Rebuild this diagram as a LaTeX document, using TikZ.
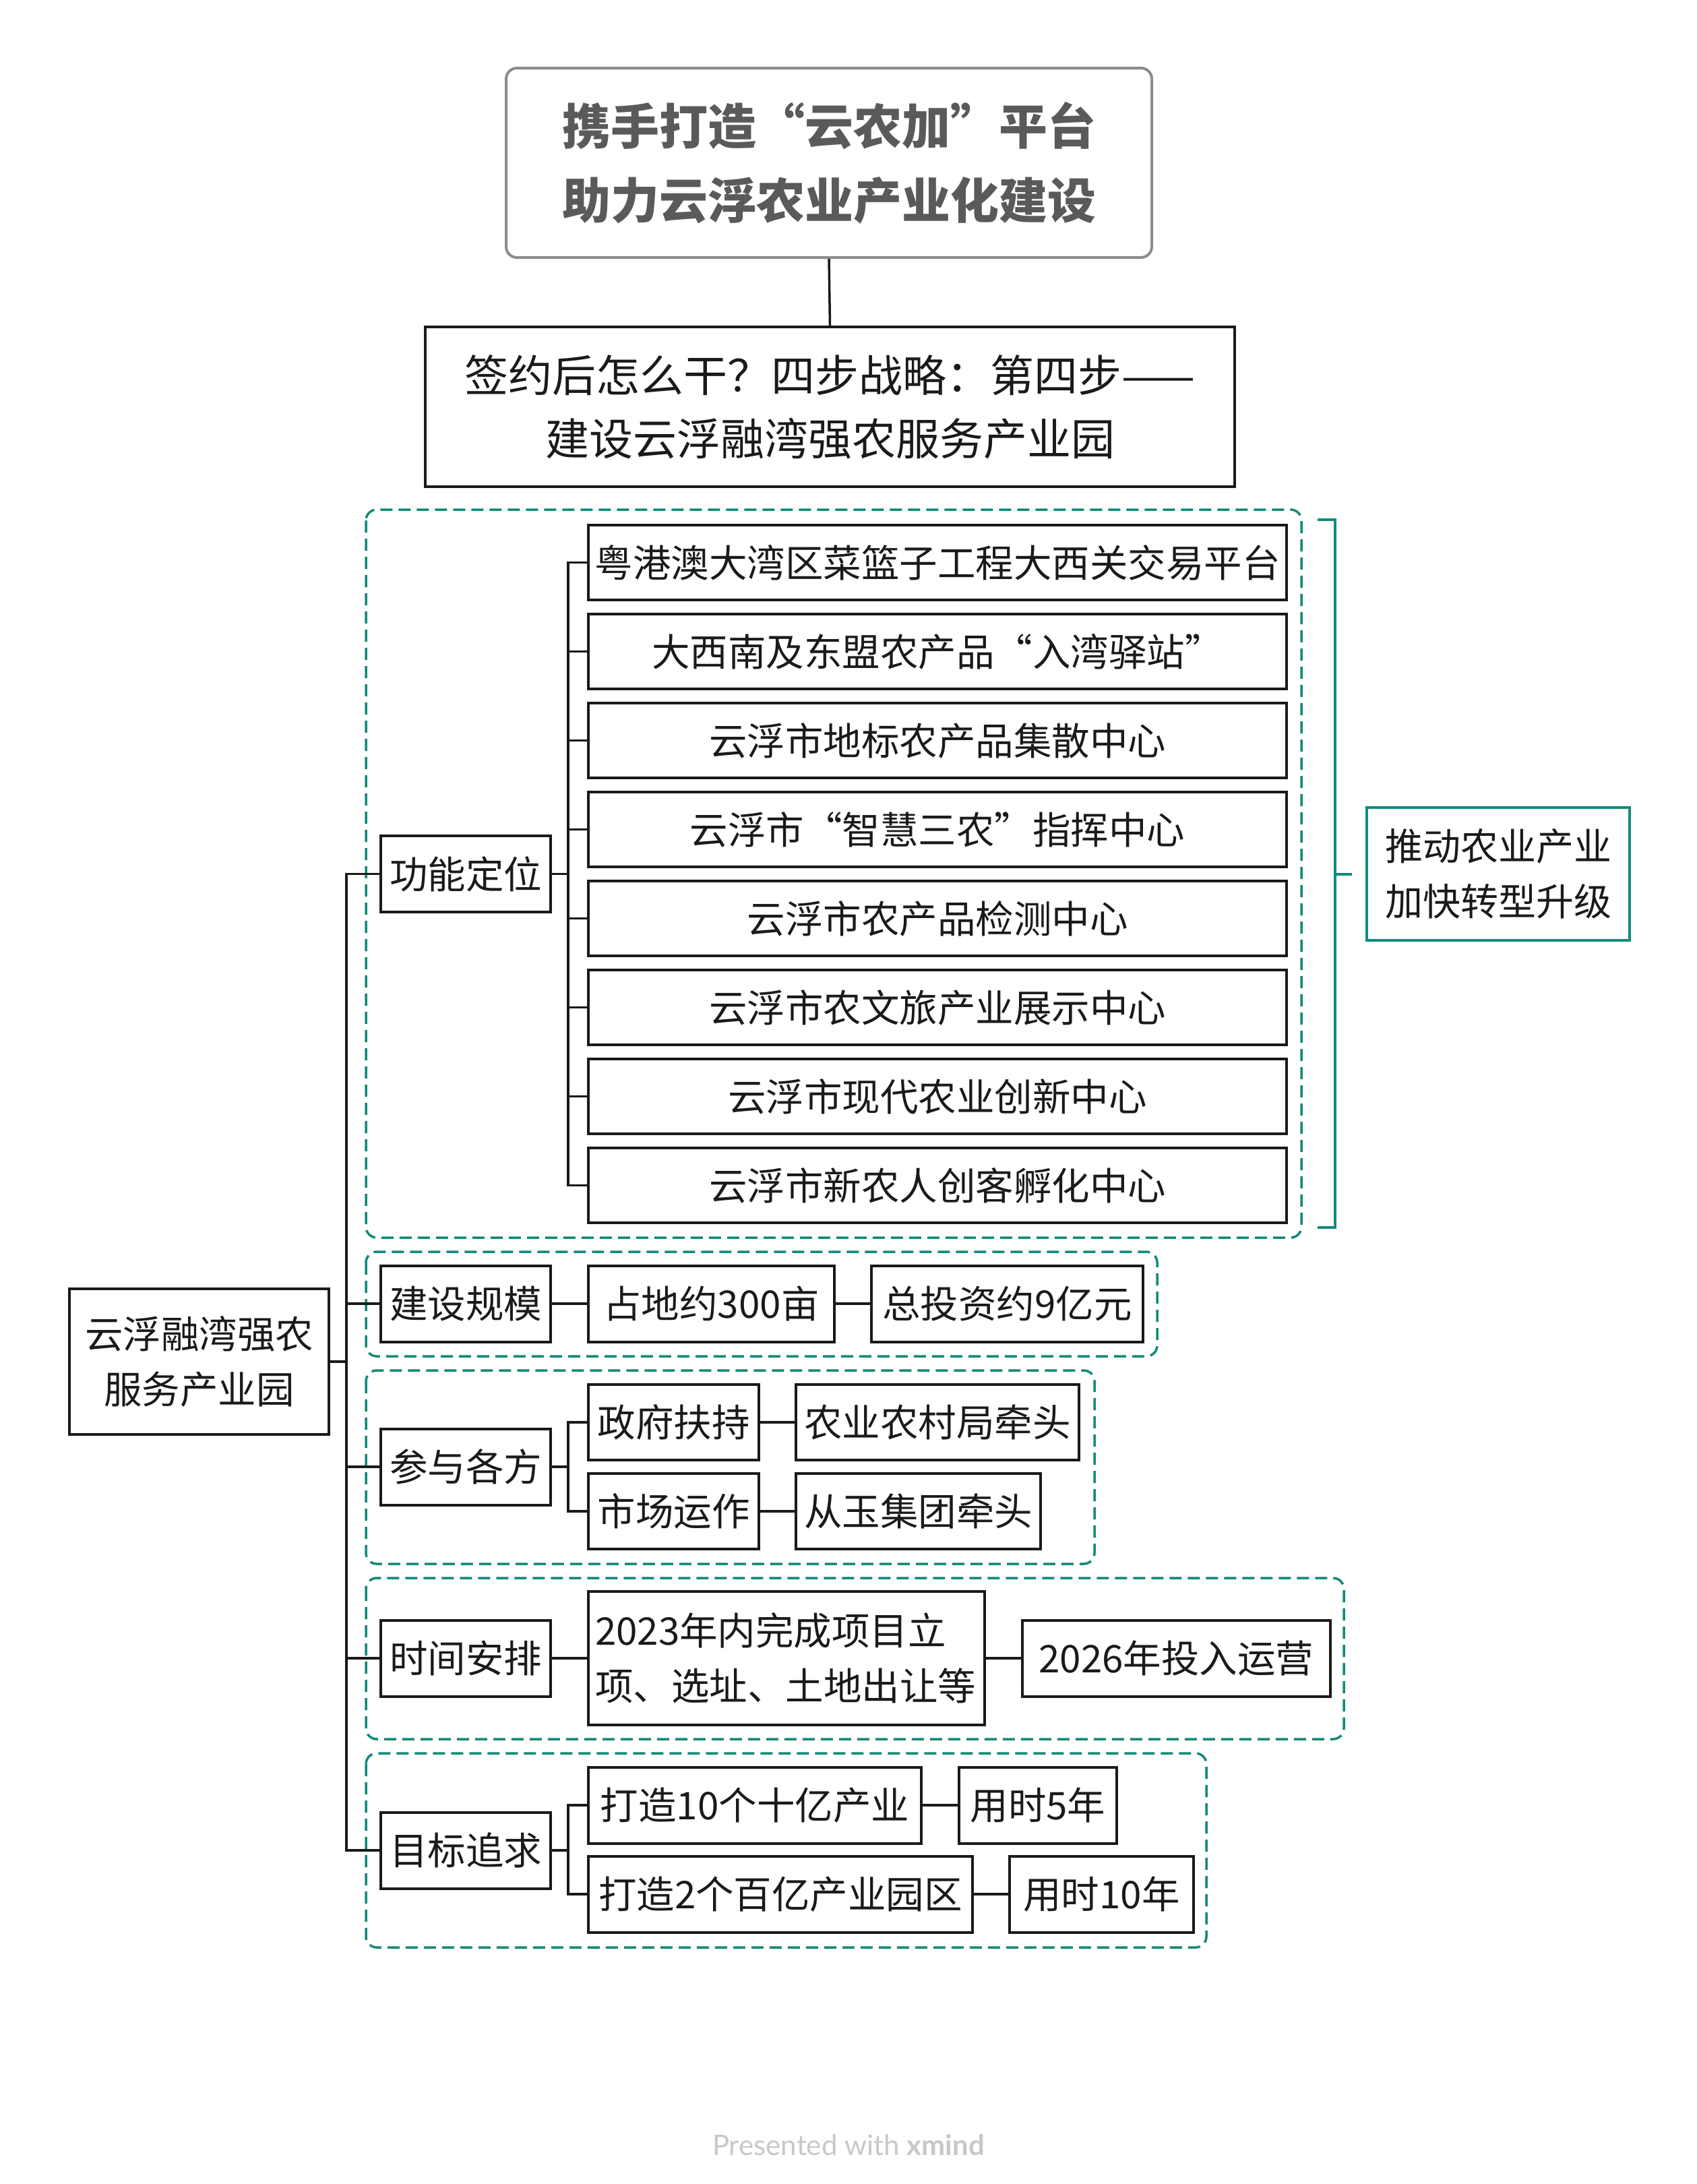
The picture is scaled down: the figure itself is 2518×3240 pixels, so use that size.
\documentclass[tikz,border=0pt]{standalone}
\usepackage{fontspec}
\setmainfont{Noto Sans CJK SC}
\newfontfamily\latofont{Lato}
\definecolor{grn}{HTML}{138A7A}
\definecolor{ttlgray}{HTML}{5A5A5A}
\definecolor{ttlborder}{HTML}{8C8C8C}
\definecolor{ink}{HTML}{1A1A1A}
\definecolor{footgray}{HTML}{C8C8C8}
\begin{document}
\begin{tikzpicture}[x=1pt,y=-1pt,
  box/.style={draw=ink, line width=4pt, inner sep=0pt, align=center, text=ink,
    font=\fontsize{56.5}{82}\selectfont},
  lnk/.style={line width=3.5pt, draw=ink},
  grp/.style={draw=grn, line width=3.5pt, dash pattern=on 18pt off 9pt, rounded corners=16pt},
]
\useasboundingbox[fill=white] (0,0) rectangle (2518,3240);

% title and step boxes
\node[draw=ttlborder, line width=4pt, rounded corners=16pt, minimum width=958pt, minimum height=281pt,
  inner sep=0pt, align=center, text=ttlgray, font=\fontsize{72}{110}\selectfont\bfseries]
  (title) at (1230,241.5) {携手打造“云农加”平台\\助力云浮农业产业化建设};
\node[box, minimum width=1201pt, minimum height=237pt, font=\fontsize{65}{94}\selectfont]
  (step4) at (1231.5,603.5) {签约后怎么干？四步战略：第四步——\\建设云浮融湾强农服务产业园};
\draw[lnk] (title.south) -- (step4.north);

% group frames
\draw[grp] (543,756) rectangle (1931,1836);
\draw[grp] (543,1857) rectangle (1717,2012);
\draw[grp] (543,2033) rectangle (1624,2320);
\draw[grp] (543,2341) rectangle (1994,2580);
\draw[grp] (543,2601) rectangle (1790,2889);

% root
\node[box, minimum width=385pt, minimum height=216pt] (root) at (295.5,2020) {云浮融湾强农\\服务产业园};

% level 1
\node[box, minimum width=252pt, minimum height=113pt] (func) at (691,1296.5) {功能定位};
\node[box, minimum width=252pt, minimum height=113pt] (scale) at (691,1934) {建设规模};
\node[box, minimum width=252pt, minimum height=113pt] (party) at (691,2176) {参与各方};
\node[box, minimum width=252pt, minimum height=113pt] (time) at (691,2460) {时间安排};
\node[box, minimum width=252pt, minimum height=113pt] (goal) at (691,2745) {目标追求};

% function items
\node[box, minimum width=1036pt, minimum height=111pt] (i1) at (1391,834.5) {粤港澳大湾区菜篮子工程大西关交易平台};
\node[box, minimum width=1036pt, minimum height=111pt] (i2) at (1391,966.5) {大西南及东盟农产品“入湾驿站”};
\node[box, minimum width=1036pt, minimum height=111pt] (i3) at (1391,1098.5) {云浮市地标农产品集散中心};
\node[box, minimum width=1036pt, minimum height=111pt] (i4) at (1391,1230.5) {云浮市“智慧三农”指挥中心};
\node[box, minimum width=1036pt, minimum height=111pt] (i5) at (1391,1362.5) {云浮市农产品检测中心};
\node[box, minimum width=1036pt, minimum height=111pt] (i6) at (1391,1494.5) {云浮市农文旅产业展示中心};
\node[box, minimum width=1036pt, minimum height=111pt] (i7) at (1391,1626.5) {云浮市现代农业创新中心};
\node[box, minimum width=1036pt, minimum height=111pt] (i8) at (1391,1758.5) {云浮市新农人创客孵化中心};

% scale items
\node[box, minimum width=365pt, minimum height=113pt] (land) at (1055.5,1934) {占地约300亩};
\node[box, minimum width=403pt, minimum height=113pt] (invest) at (1494.5,1934) {总投资约9亿元};

% parties
\node[box, minimum width=253pt, minimum height=112pt] (gov) at (999.5,2110) {政府扶持};
\node[box, minimum width=420pt, minimum height=112pt] (agri) at (1391,2110) {农业农村局牵头};
\node[box, minimum width=253pt, minimum height=112pt] (mkt) at (999.5,2242) {市场运作};
\node[box, minimum width=363pt, minimum height=112pt] (cy) at (1362.5,2242) {从玉集团牵头};

% timing
\node[box, minimum width=588pt, minimum height=198pt, align=left, text width=568pt] (y23) at (1167,2460) {2023年内完成项目立\\项、选址、土地出让等};
\node[box, minimum width=457pt, minimum height=113pt] (y26) at (1745.5,2460) {2026年投入运营};

% goals
\node[box, minimum width=494pt, minimum height=113pt] (g10) at (1120,2678) {打造10个十亿产业};
\node[box, minimum width=234pt, minimum height=113pt] (t5) at (1540,2678) {用时5年};
\node[box, minimum width=570pt, minimum height=113pt] (g2) at (1158,2810) {打造2个百亿产业园区};
\node[box, minimum width=273pt, minimum height=113pt] (t10) at (1634.5,2810) {用时10年};

% summary
\node[draw=grn, line width=4pt, minimum width=390pt, minimum height=197pt, inner sep=0pt, align=center,
  text=ink, font=\fontsize{56}{82}\selectfont] (sum) at (2223,1296.5) {推动农业产业\\加快转型升级};
\coordinate (btip) at (2006,1296.5);
\draw[draw=grn, line width=4pt] (1955,771) -- (1981,771) -- (1981,1821) -- (1955,1821);
\draw[draw=grn, line width=4pt] (1981,1296.5) -- (btip);

% trunk
\coordinate (trunk) at (514,2020);
\draw[lnk] (root.east) -- (trunk);
\foreach \n in {func,scale,party,time,goal} \draw[lnk] (trunk) |- (\n.west);

% function bracket
\coordinate (fj) at (843,1296.5);
\draw[lnk] (func.east) -- (fj);
\foreach \n in {i1,i2,i3,i4,i5,i6,i7,i8} \draw[lnk] (fj) |- (\n.west);

% other links
\draw[lnk] (scale.east) -- (land.west);
\draw[lnk] (land.east) -- (invest.west);
\coordinate (pj) at (843,2176);
\draw[lnk] (party.east) -- (pj);
\draw[lnk] (pj) |- (gov.west);
\draw[lnk] (pj) |- (mkt.west);
\draw[lnk] (gov.east) -- (agri.west);
\draw[lnk] (mkt.east) -- (cy.west);
\draw[lnk] (time.east) -- (y23.west);
\draw[lnk] (y23.east) -- (y26.west);
\coordinate (gj) at (843,2745);
\draw[lnk] (goal.east) -- (gj);
\draw[lnk] (gj) |- (g10.west);
\draw[lnk] (gj) |- (g2.west);
\draw[lnk] (g10.east) -- (t5.west);
\draw[lnk] (g2.east) -- (t10.west);

% footer
\node[text=footgray, font=\latofont\fontsize{42}{50}\selectfont, inner sep=0pt] (foot) at (1259,3182) {Presented with \textbf{xmind}};
\end{tikzpicture}
\end{document}
